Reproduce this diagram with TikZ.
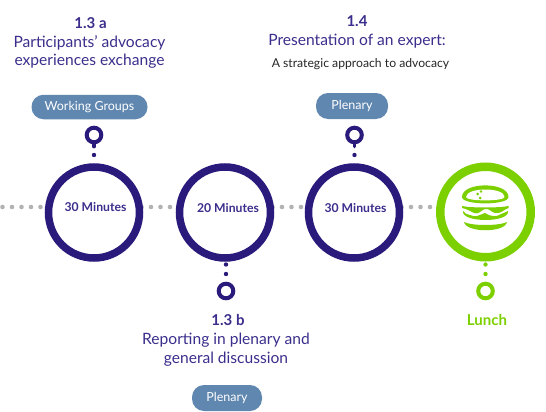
\documentclass[tikz,border=0pt]{standalone}
\usepackage{fontspec}
\setmainfont{Lato}
\definecolor{navy}{HTML}{2A1A7C}
\definecolor{headtext}{HTML}{3B2E8C}
\definecolor{pillblue}{HTML}{6087B0}
\definecolor{lime}{HTML}{7DD000}
\definecolor{dotgrey}{HTML}{B2B2B2}
\tikzset{
  ringnode/.style={circle,draw=#1,line width=7.5pt,minimum size=91pt,inner sep=0pt,fill=white},
  timetext/.style={text=headtext,font=\fontsize{12.2}{14}\selectfont\bfseries},
  pinring/.style={circle,draw=#1,line width=4pt,minimum size=14.6pt,inner sep=0pt},
  pilltag/.style={rectangle,rounded corners=12pt,fill=pillblue,text=white,inner sep=0pt,font=\fontsize{12.5}{14}\selectfont},
  numhead/.style={text=headtext,font=\fontsize{15}{17}\selectfont\bfseries},
  title/.style={text=headtext,align=center,font=\fontsize{15.6}{18.5}\selectfont},
  greydots/.style={draw=dotgrey,line width=4.6pt,line cap=round,dash pattern=on 0pt off 9.5pt},
}
\begin{document}
\begin{tikzpicture}[x=1pt,y=-1pt]
\useasboundingbox (0,0) rectangle (546,412);
% timeline dots
\coordinate (s0) at (2.5,207);\coordinate (e0) at (42,207);
\coordinate (s1) at (141.5,207);\coordinate (e1) at (172,207);
\coordinate (s2) at (272.5,207);\coordinate (e2) at (302,207);
\coordinate (s3) at (401.5,207);\coordinate (e3) at (432,207);
\draw[greydots] (s0) -- (e0);
\draw[greydots] (s1) -- (e1);
\draw[greydots] (s2) -- (e2);
\draw[greydots] (s3) -- (e3);
% circles
\node[ringnode=navy] (c1) at (94,212.5) {};
\node[ringnode=navy] (c2) at (225,212.5) {};
\node[ringnode=navy] (c3) at (354,212.5) {};
\node[circle,draw=lime,line width=8.5pt,minimum size=90.5pt,inner sep=0pt,fill=white] (c4) at (485.5,212) {};
\node[timetext] (m1) at (95.5,207) {30 Minutes};
\node[timetext] (m2) at (228,208) {20 Minutes};
\node[timetext] (m3) at (355.5,208) {30 Minutes};
% burger icon
\begin{scope}[lime]
\fill (462,197) .. controls (462,181.5) and (508.5,181.5) .. (508.5,197) .. controls (508.5,205.5) and (462,205.5) .. (462,197) -- cycle;
\fill[white] (466,197) .. controls (466.5,187) and (504.5,187) .. (504.5,197) .. controls (504.5,201.5) and (466,201.5) .. (466,197) -- cycle;
\fill (477.5,194) circle (1.5) (481,191.5) circle (1.3) (480,198) circle (1.5);
\fill (462,206) .. controls (470,208) and (500,208) .. (508.5,206) -- (508.5,208)
  .. controls (503,210) and (501,214) .. (495,213) .. controls (491,212) and (489,208) .. (485,209)
  .. controls (481,210) and (479,215) .. (474,213) .. controls (470,211) and (467,209) .. (462,208) -- cycle;
\fill (463,211) .. controls (464,213) and (466,214) .. (470,215) .. controls (476,218) and (479,215) .. (485,213)
  .. controls (491,217) and (497,217) .. (501,214) .. controls (504,213) and (506,212) .. (508,211)
  .. controls (510,223) and (461,223) .. (463,211) -- cycle;
\fill (464,222) .. controls (472,226) and (499,226) .. (507,222) .. controls (505,233) and (466,233) .. (464,222) -- cycle;
\end{scope}
% pins
\node[pinring=navy] (p1) at (94,135) {};
\coordinate (t1) at (94,146.5);\coordinate (d1) at (94,155);
\draw[navy,line width=3.8pt,line cap=round] (p1) -- (t1);
\fill[navy] (d1) circle (2.2);
\node[pinring=navy] (p3) at (354.5,135) {};
\coordinate (t3) at (354.5,146.5);\coordinate (d3) at (354.5,155);
\draw[navy,line width=3.8pt,line cap=round] (p3) -- (t3);
\fill[navy] (d3) circle (2.2);
\node[pinring=navy] (p2) at (226,291) {};
\node[pinring=lime] (p4) at (485.5,291) {};
\coordinate (u2) at (226,264.5);\coordinate (v2) at (226,274);
\coordinate (u4) at (485.5,264.5);\coordinate (v4) at (485.5,274);
\fill[navy] (u2) circle (2.2) (v2) circle (2.2);
\fill[lime] (u4) circle (2.2) (v4) circle (2.2);
% pills
\node[pilltag,minimum width=116pt,minimum height=24.5pt] (w1) at (89.5,107) {Working Groups};
\node[pilltag,minimum width=72pt,minimum height=26pt] (w3) at (352,106) {Plenary};
\node[pilltag,minimum width=70pt,minimum height=26pt] (w2) at (227,398) {Plenary};
% headings
\node[numhead] (h1) at (90.5,23) {1.3 a};
\node[title] (h1b) at (89.5,52) {Participants' advocacy\\experiences exchange};
\node[numhead] (h3) at (357,21) {1.4};
\node[title] (h3b) at (357,41) {Presentation of an expert:};
\node[text=black!85,font=\fontsize{12.2}{14}\selectfont] (h3c) at (360.5,64.5) {A strategic approach to advocacy};
\node[numhead] (h2) at (228,320) {1.3 b};
\node[title] (h2b) at (226,349.5) {Reporting in plenary and\\general discussion};
\node[text=lime,font=\fontsize{15}{17}\selectfont\bfseries] (h4) at (487,320) {Lunch};
\end{tikzpicture}
\end{document}
